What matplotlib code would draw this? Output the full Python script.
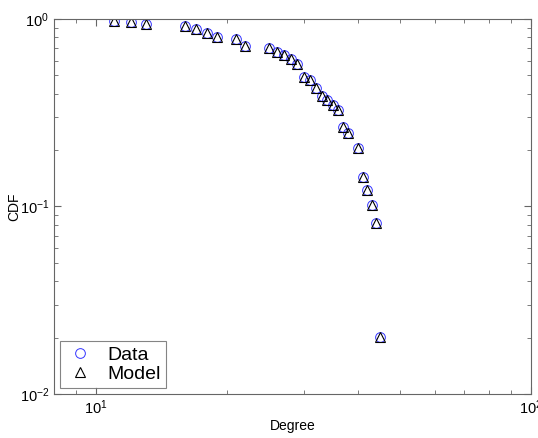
import matplotlib
matplotlib.use('Agg')
import matplotlib.pyplot as plt

# Degree / CDF values
degree = [11, 12, 13, 16, 17, 18, 19, 21, 22, 25, 26, 27, 28, 29, 30,
          31, 32, 33, 34, 35, 36, 37, 38, 40, 41, 42, 43, 44, 45]
cdf_data = [0.976, 0.960, 0.940, 0.921, 0.884, 0.842, 0.805, 0.782, 0.718,
            0.698, 0.664, 0.643, 0.612, 0.575, 0.492, 0.473, 0.427, 0.390,
            0.370, 0.348, 0.327, 0.266, 0.246, 0.206, 0.143, 0.1225, 0.102,
            0.0813, 0.0201]
cdf_model = [0.976, 0.960, 0.940, 0.921, 0.884, 0.842, 0.805, 0.782, 0.718,
             0.698, 0.664, 0.643, 0.612, 0.575, 0.492, 0.473, 0.427, 0.390,
             0.370, 0.348, 0.327, 0.266, 0.246, 0.206, 0.143, 0.1225, 0.102,
             0.0813, 0.0201]

plt.rcParams['font.family'] = ['Liberation Sans', 'DejaVu Sans']
plt.rcParams['mathtext.default'] = 'regular'

fig = plt.figure(figsize=(5.38, 4.38), dpi=100)
ax = fig.add_axes([0.1004, 0.1005, 0.8866, 0.8561])

ax.plot(degree, cdf_data, linestyle='none', marker='o', ms=7,
        mfc='none', mec='#3333ff', mew=0.7, label='Data')
ax.plot(degree, cdf_model, linestyle='none', marker='^', ms=6.5,
        mfc='none', mec='black', mew=0.8, label='Model')

ax.set_xscale('log')
ax.set_yscale('log')
ax.set_xlim(8, 100)
ax.set_ylim(0.01, 1)

ax.set_xlabel('Degree', fontsize=10, labelpad=1)
ax.set_ylabel('CDF', fontsize=10, labelpad=-1)

for s in ax.spines.values():
    s.set_color('#666666')
    s.set_linewidth(0.8)
ax.tick_params(which='both', direction='in', top=True, right=True,
               color='#666666', labelsize=10.5)
ax.tick_params(which='major', length=5)
ax.tick_params(which='minor', length=3)

leg = ax.legend(loc='lower left', fontsize=14, frameon=True, fancybox=False,
                borderaxespad=0.3, handletextpad=0.6, borderpad=0.25,
                labelspacing=0.1, handlelength=1.6)
leg.get_frame().set_edgecolor('#666666')
leg.get_frame().set_linewidth(0.8)

fig.savefig('out.png', dpi=100)
